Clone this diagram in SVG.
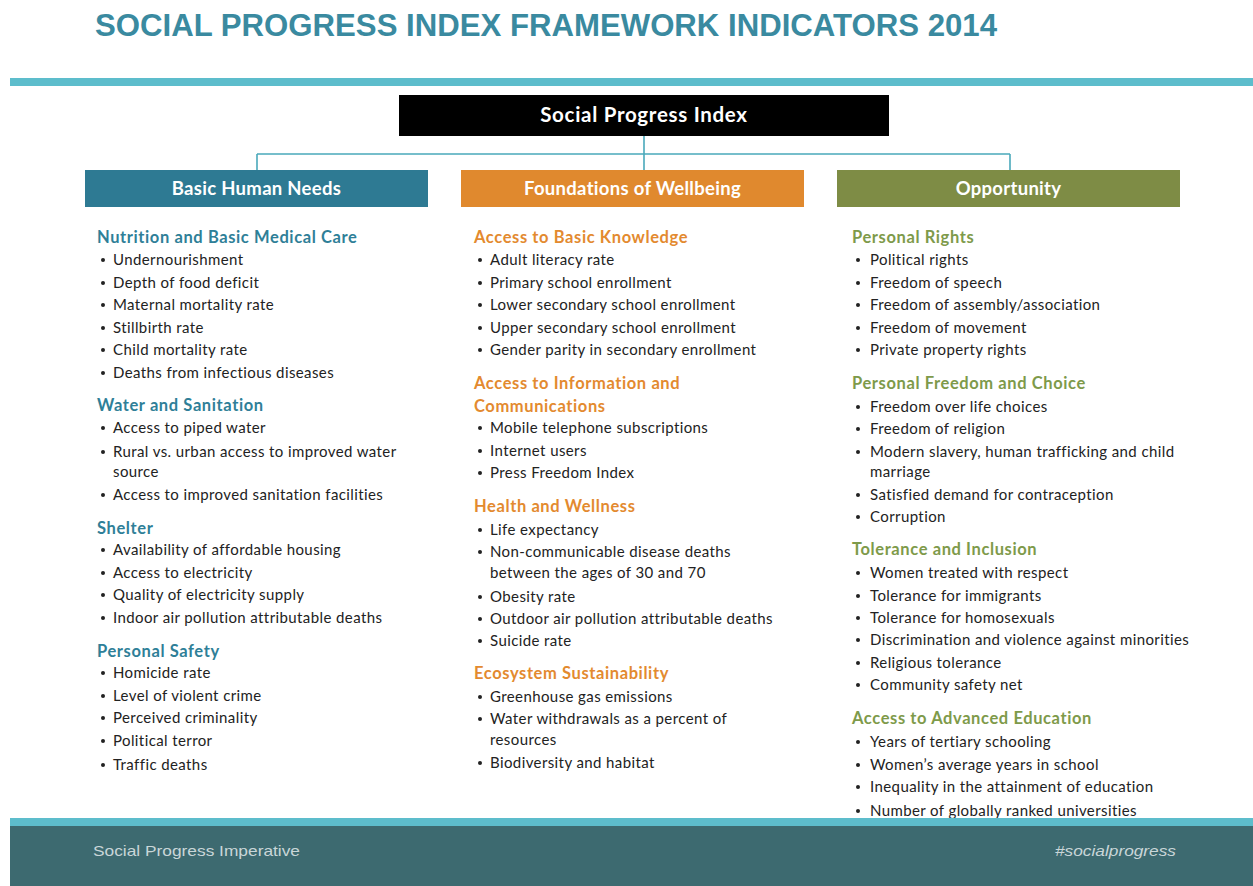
<svg xmlns="http://www.w3.org/2000/svg" width="1253" height="886" viewBox="0 0 1253 886">
<style>
.t{font-family:"Liberation Sans",Arial,sans-serif;font-weight:bold;fill:#3a8aa0}
.cat{font-family:Lato,"Liberation Sans",sans-serif;font-weight:bold;font-size:18.5px;letter-spacing:0.3px;fill:#fff;text-anchor:middle}
.h{font-family:Lato,"Liberation Sans",sans-serif;font-weight:bold;font-size:16.5px;letter-spacing:0.6px}
.hb{fill:#2f7f98}.ho{fill:#e38a2f}.hg{fill:#7e9a4a}
.i{font-family:Lato,"Liberation Sans",sans-serif;font-size:15px;letter-spacing:0.4px;fill:#222}
.conn{stroke:#4aa9bb;stroke-width:1.6;fill:none}
.f{font-family:"Liberation Sans",Arial,sans-serif;font-size:15px;fill:#c9d6d8}
</style>
<defs>
<circle id="b" r="2" fill="#222"/>
</defs>
<rect width="1253" height="886" fill="#fff"/>
<text class="t" x="95" y="36" font-size="31" textLength="902" lengthAdjust="spacingAndGlyphs">SOCIAL PROGRESS INDEX FRAMEWORK INDICATORS 2014</text>
<rect x="10" y="78" width="1243" height="8" fill="#5dbdcc"/>

<g id="connectors">
<path class="conn" d="M644 136V154M257 154H1010M257 154V170M644 154V170M1010 154V170"/>
</g>

<g id="spi">
<rect x="399" y="95" width="490" height="41" fill="#000"/>
<text x="644" y="122" font-family="Lato,'Liberation Sans',sans-serif" font-weight="bold" font-size="20.5" letter-spacing="0.7" fill="#fff" text-anchor="middle">Social Progress Index</text>
</g>

<g id="bhn">
<rect x="85" y="170" width="343" height="37" fill="#2e7a93"/>
<text class="cat" x="256.5" y="195">Basic Human Needs</text>
</g>
<g id="fow">
<rect x="461" y="170" width="343" height="37" fill="#e0892e"/>
<text class="cat" x="632.5" y="195">Foundations of Wellbeing</text>
</g>
<g id="opp">
<rect x="837" y="170" width="343" height="37" fill="#7e8c45"/>
<text class="cat" x="1008.5" y="195">Opportunity</text>
</g>

<g id="col-bhn">
<text class="h hb" x="97" y="243">Nutrition and Basic Medical Care</text>
<g class="i">
<use href="#b" x="103" y="260"/><text x="113" y="265">Undernourishment</text>
<use href="#b" x="103" y="283"/><text x="113" y="288">Depth of food deficit</text>
<use href="#b" x="103" y="305"/><text x="113" y="310">Maternal mortality rate</text>
<use href="#b" x="103" y="328"/><text x="113" y="333">Stillbirth rate</text>
<use href="#b" x="103" y="350"/><text x="113" y="355">Child mortality rate</text>
<use href="#b" x="103" y="373"/><text x="113" y="378">Deaths from infectious diseases</text>
</g>
<text class="h hb" x="97" y="411">Water and Sanitation</text>
<g class="i">
<use href="#b" x="103" y="428"/><text x="113" y="433">Access to piped water</text>
<use href="#b" x="103" y="452"/><text x="113" y="457">Rural vs. urban access to improved water</text>
<text x="113" y="477">source</text>
<use href="#b" x="103" y="495"/><text x="113" y="500">Access to improved sanitation facilities</text>
</g>
<text class="h hb" x="97" y="534">Shelter</text>
<g class="i">
<use href="#b" x="103" y="550"/><text x="113" y="555">Availability of affordable housing</text>
<use href="#b" x="103" y="573"/><text x="113" y="578">Access to electricity</text>
<use href="#b" x="103" y="595"/><text x="113" y="600">Quality of electricity supply</text>
<use href="#b" x="103" y="618"/><text x="113" y="623">Indoor air pollution attributable deaths</text>
</g>
<text class="h hb" x="97" y="657">Personal Safety</text>
<g class="i">
<use href="#b" x="103" y="673"/><text x="113" y="678">Homicide rate</text>
<use href="#b" x="103" y="696"/><text x="113" y="701">Level of violent crime</text>
<use href="#b" x="103" y="718"/><text x="113" y="723">Perceived criminality</text>
<use href="#b" x="103" y="741"/><text x="113" y="746">Political terror</text>
<use href="#b" x="103" y="765"/><text x="113" y="770">Traffic deaths</text>
</g>
</g>

<g id="col-fow">
<text class="h ho" x="474" y="243">Access to Basic Knowledge</text>
<g class="i">
<use href="#b" x="480" y="260"/><text x="490" y="265">Adult literacy rate</text>
<use href="#b" x="480" y="283"/><text x="490" y="288">Primary school enrollment</text>
<use href="#b" x="480" y="305"/><text x="490" y="310">Lower secondary school enrollment</text>
<use href="#b" x="480" y="328"/><text x="490" y="333">Upper secondary school enrollment</text>
<use href="#b" x="480" y="350"/><text x="490" y="355">Gender parity in secondary enrollment</text>
</g>
<text class="h ho" x="474" y="389">Access to Information and</text>
<text class="h ho" x="474" y="412">Communications</text>
<g class="i">
<use href="#b" x="480" y="428"/><text x="490" y="433">Mobile telephone subscriptions</text>
<use href="#b" x="480" y="451"/><text x="490" y="456">Internet users</text>
<use href="#b" x="480" y="473"/><text x="490" y="478">Press Freedom Index</text>
</g>
<text class="h ho" x="474" y="512">Health and Wellness</text>
<g class="i">
<use href="#b" x="480" y="530"/><text x="490" y="535">Life expectancy</text>
<use href="#b" x="480" y="552"/><text x="490" y="557">Non-communicable disease deaths</text>
<text x="490" y="578">between the ages of 30 and 70</text>
<use href="#b" x="480" y="597"/><text x="490" y="602">Obesity rate</text>
<use href="#b" x="480" y="619"/><text x="490" y="624">Outdoor air pollution attributable deaths</text>
<use href="#b" x="480" y="641"/><text x="490" y="646">Suicide rate</text>
</g>
<text class="h ho" x="474" y="679">Ecosystem Sustainability</text>
<g class="i">
<use href="#b" x="480" y="697"/><text x="490" y="702">Greenhouse gas emissions</text>
<use href="#b" x="480" y="719"/><text x="490" y="724">Water withdrawals as a percent of</text>
<text x="490" y="745">resources</text>
<use href="#b" x="480" y="763"/><text x="490" y="768">Biodiversity and habitat</text>
</g>
</g>

<g id="col-opp">
<text class="h hg" x="852" y="243">Personal Rights</text>
<g class="i">
<use href="#b" x="858" y="260"/><text x="870" y="265">Political rights</text>
<use href="#b" x="858" y="283"/><text x="870" y="288">Freedom of speech</text>
<use href="#b" x="858" y="305"/><text x="870" y="310">Freedom of assembly/association</text>
<use href="#b" x="858" y="328"/><text x="870" y="333">Freedom of movement</text>
<use href="#b" x="858" y="350"/><text x="870" y="355">Private property rights</text>
</g>
<text class="h hg" x="852" y="389">Personal Freedom and Choice</text>
<g class="i">
<use href="#b" x="858" y="407"/><text x="870" y="412">Freedom over life choices</text>
<use href="#b" x="858" y="429"/><text x="870" y="434">Freedom of religion</text>
<use href="#b" x="858" y="452"/><text x="870" y="457">Modern slavery, human trafficking and child</text>
<text x="870" y="477">marriage</text>
<use href="#b" x="858" y="495"/><text x="870" y="500">Satisfied demand for contraception</text>
<use href="#b" x="858" y="517"/><text x="870" y="522">Corruption</text>
</g>
<text class="h hg" x="852" y="555">Tolerance and Inclusion</text>
<g class="i">
<use href="#b" x="858" y="573"/><text x="870" y="578">Women treated with respect</text>
<use href="#b" x="858" y="596"/><text x="870" y="601">Tolerance for immigrants</text>
<use href="#b" x="858" y="618"/><text x="870" y="623">Tolerance for homosexuals</text>
<use href="#b" x="858" y="640"/><text x="870" y="645">Discrimination and violence against minorities</text>
<use href="#b" x="858" y="663"/><text x="870" y="668">Religious tolerance</text>
<use href="#b" x="858" y="685"/><text x="870" y="690">Community safety net</text>
</g>
<text class="h hg" x="852" y="724">Access to Advanced Education</text>
<g class="i">
<use href="#b" x="858" y="742"/><text x="870" y="747">Years of tertiary schooling</text>
<use href="#b" x="858" y="765"/><text x="870" y="770">Women’s average years in school</text>
<use href="#b" x="858" y="787"/><text x="870" y="792">Inequality in the attainment of education</text>
<use href="#b" x="858" y="811"/><text x="870" y="816">Number of globally ranked universities</text>
</g>
</g>

<g id="footer">
<rect x="10" y="818" width="1243" height="9" fill="#5dbdcc"/>
<rect x="10" y="826" width="1243" height="60" fill="#3d6a70"/>
<text class="f" x="93" y="856" textLength="207" lengthAdjust="spacingAndGlyphs">Social Progress Imperative</text>
<text class="f" x="1176" y="856" text-anchor="end" font-style="italic" textLength="121" lengthAdjust="spacingAndGlyphs">#socialprogress</text>
</g>
</svg>
